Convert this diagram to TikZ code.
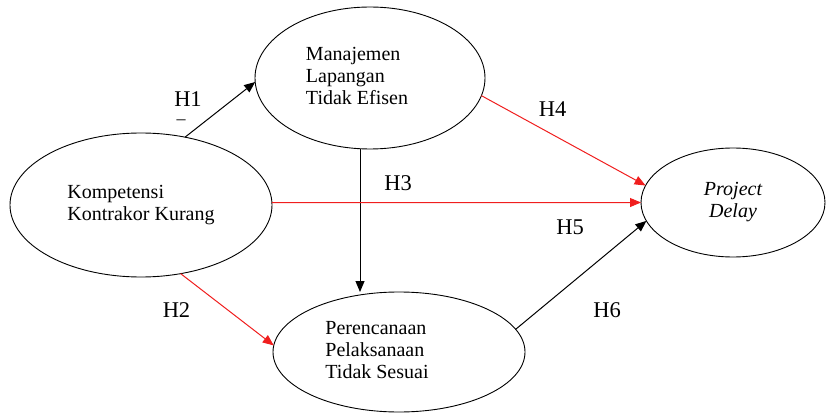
\documentclass[tikz,border=0pt]{standalone}
\usepackage{fontspec}
\setmainfont{Liberation Serif}
\usetikzlibrary{shapes.geometric,arrows.meta}
\definecolor{arrred}{RGB}{240,30,30}
\tikzset{
  var/.style={ellipse, draw, line width=0.9pt, inner sep=0pt, outer sep=0pt, align=left,
    font=\fontsize{20}{22}\selectfont},
  hlab/.style={font=\fontsize{22.5}{24}\selectfont, inner sep=0pt},
  conn/.style={line width=1pt, -{Triangle[length=11pt,width=9pt]}},
  blk/.style={conn, black},
  rd/.style={conn, arrred},
}
\begin{document}
\begin{tikzpicture}[x=1pt,y=-1pt]
\useasboundingbox (0,0) rectangle (827,414);
\node[var, minimum width=230pt, minimum height=142pt] (m) at (370,78)
  {\hspace*{-26pt}\begin{tabular}{@{}l@{}}Manajemen\\Lapangan\\Tidak Efisen\end{tabular}};
\node[var, minimum width=262pt, minimum height=144pt] (k) at (141,205)
  {Kompetensi\\Kontrakor Kurang};
\node[var, minimum width=252pt, minimum height=120pt] (p) at (399,352)
  {\hspace*{-44pt}\begin{tabular}{@{}l@{}}Perencanaan\\Pelaksanaan\\Tidak Sesuai\end{tabular}};
\node[var, minimum width=184pt, minimum height=109pt, align=center] (d) at (733,202.5)
  {\itshape Project\\\itshape Delay};

\draw[blk] (k.57) -- (m.182);
\draw[blk] ([xshift=-10pt]m.south) -- ([xshift=-10pt]m.south |- p.north);
\draw[rd] (m.-9.5) -- (d.169);
\draw[rd] (k.1) -- (d.180);
\draw[blk] (p.11) -- (d.192);
\draw[rd] (k.-60) -- (p.177);

\node[hlab] (h1) at (188,99) {H1};
\node[hlab, font=\fontsize{18}{20}\selectfont] (h1d) at (181,122) {–};
\node[hlab] (h2) at (176.5,310.5) {H2};
\node[hlab] (h3) at (398,183.5) {H3};
\node[hlab] (h4) at (552.5,109.5) {H4};
\node[hlab] (h5) at (570,227.5) {H5};
\node[hlab] (h6) at (607,310.5) {H6};
\end{tikzpicture}
\end{document}
